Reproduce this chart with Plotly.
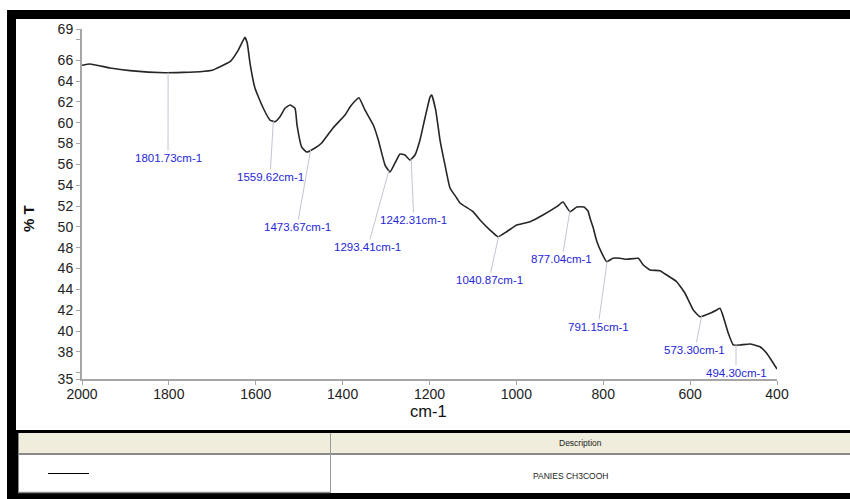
import numpy as np
import plotly.graph_objects as go

# IR spectrum, wavenumber (cm-1) vs transmittance (%T)
wavenumber = [2000, 1981.6, 1935.5, 1889.5, 1808.9, 1728.3, 1698.4, 1689.9, 1659.3, 1640.2,
              1628.7, 1624.7, 1619.5, 1613.2, 1601.7, 1582.6, 1567.2, 1555.7, 1544.2, 1532.7,
              1521.2, 1509.6, 1505.0, 1494.2, 1482.7, 1463.6, 1448.2, 1422.2, 1394.5, 1383.0,
              1371.5, 1362.3, 1348.5, 1329.4, 1317.8, 1302.4, 1290.9, 1279.4, 1267.9, 1256.4,
              1244.9, 1233.4, 1221.9, 1210.4, 1198.8, 1195.0, 1185.7, 1175.8, 1164.3, 1152.8,
              1137.4, 1129.8, 1099.9, 1083.7, 1060.7, 1042.3, 1022.3, 999.3, 968.6, 938.7,
              907.2, 892.7, 876.5, 861.1, 844.3, 835.1, 830.5, 823.6, 815.1, 803.6,
              792.1, 777.6, 761.4, 746.0, 719.3, 707.8, 692.4, 669.4, 654.0, 630.9,
              611.8, 592.7, 577.3, 554.2, 538.8, 531.2, 523.6, 512.1, 500.6, 485.2,
              462.2, 439.1, 423.7, 408.5, 400]
transmittance = [65.52, 65.64, 65.26, 65.00, 64.80, 64.90, 65.06, 65.23, 65.86, 66.98,
                 67.94, 68.20, 67.63, 65.71, 63.31, 61.39, 60.26, 60.10, 60.58, 61.39,
                 61.70, 61.39, 59.78, 57.67, 57.19, 57.58, 58.06, 59.50, 60.74, 61.51,
                 62.09, 62.40, 61.22, 59.78, 58.34, 55.94, 55.27, 56.14, 57.00, 56.90,
                 56.42, 56.90, 58.34, 60.46, 62.47, 62.66, 61.22, 58.34, 55.94, 53.74,
                 52.78, 52.30, 51.46, 50.66, 49.70, 49.06, 49.54, 50.18, 50.50, 51.14,
                 51.94, 52.39, 51.46, 51.91, 51.91, 51.53, 50.86, 49.99, 48.65, 47.50,
                 46.66, 46.99, 46.99, 46.89, 46.99, 46.34, 45.86, 45.80, 45.38, 44.74,
                 43.63, 42.03, 41.38, 41.71, 42.03, 42.19, 41.38, 39.79, 38.67, 38.67,
                 38.76, 38.50, 37.87, 36.91, 36.36]

# picked peaks (cm-1)
peaks = [1801.73, 1559.62, 1473.67, 1293.41, 1242.31, 1040.87, 877.04, 791.15, 573.30, 494.30]

# axis ticks
x_ticks = [2000, 1800, 1600, 1400, 1200, 1000, 800, 600, 400]
y_ticks = [35.4, 36, 38, 40, 42, 44, 46, 48, 50, 52, 54, 56, 58, 60, 62, 64, 66, 68, 69]
y_tick_text = ["35", "", "38", "40", "42", "44", "46", "48", "50", "52", "54", "56", "58",
               "60", "62", "64", "66", "", "69"]

legend_desc = "PANIES CH3COOH"

# label placement for each peak (wavenumber, %T of text centre)
label_pos = [(1802, 56.6), (1567, 54.8), (1505, 50.0), (1342, 48.07), (1236, 50.66),
             (1063, 44.9), (895, 46.9), (812, 40.4), (589, 38.2), (494.4, 36.0)]

W, H = 850, 499
FONT = "Liberation Sans, Arial, sans-serif"


def px(x):
    return x / W


def py(y):
    return 1 - y / H


wn = np.array(wavenumber)
tr = np.array(transmittance)
order = np.argsort(wn)

fig = go.Figure()
fig.add_trace(go.Scatter(
    x=wavenumber, y=transmittance, mode="lines",
    line=dict(color="#262626", width=1.6, shape="spline", smoothing=0.4),
    hoverinfo="x+y", showlegend=False))

annotations = []
for p, (lx, ly) in zip(peaks, label_pos):
    yv = float(np.interp(p, wn[order], tr[order]))
    annotations.append(dict(
        x=p, y=yv, xref="x", yref="y", ax=lx, ay=ly, axref="x", ayref="y",
        text=f"{p:.2f}cm-1", showarrow=True, arrowhead=0, arrowwidth=1,
        arrowcolor="#c4c4d4", standoff=0, startstandoff=0,
        font=dict(family=FONT, size=11.5, color="#2626d8")))


def label(x, y, text, size, color="#111", angle=0):
    return dict(x=px(x), y=py(y), xref="paper", yref="paper", text=text,
                xanchor="center", yanchor="middle", textangle=angle,
                showarrow=False, font=dict(family=FONT, size=size, color=color))


# axis titles
annotations.append(label(428, 411, "cm-1", 16.5))
annotations.append(label(28, 219, "<b>% T</b>", 15, angle=-90))

# legend table text
annotations.append(label(580, 443, "Description", 8.5, "#222"))
annotations.append(label(570, 476, legend_desc, 8.5, "#222"))


def rect(x0, y0, x1, y1, fill, line_w=0, line_c=None):
    return dict(type="rect", xref="paper", yref="paper", x0=px(x0), x1=px(x1),
                y0=py(y1), y1=py(y0), fillcolor=fill,
                line=dict(width=line_w, color=line_c or fill), layer="above")


def hline(x0, x1, y, color, w=1):
    return dict(type="line", xref="paper", yref="paper", x0=px(x0), x1=px(x1),
                y0=py(y), y1=py(y), line=dict(color=color, width=w), layer="above")


def vline(x, y0, y1, color, w=1):
    return dict(type="line", xref="paper", yref="paper", x0=px(x), x1=px(x),
                y0=py(y0), y1=py(y1), line=dict(color=color, width=w), layer="above")


shapes = [
    rect(7, 10, 850, 19, "black"),
    rect(7, 10, 16, 499, "black"),
    rect(7, 430, 850, 433, "black"),
    rect(16, 430, 18, 499, "black"),
    rect(18, 433, 850, 453, "#f0eddd"),
    rect(18, 453, 850, 455, "#8a8a8a"),
    rect(7, 493, 850, 499, "black"),
    vline(18.5, 433, 493, "#8a8a8a"),
    vline(330.5, 433, 493, "#9a9a9a"),
    hline(18, 330, 492.5, "#8a8a8a", 1.5),
    hline(48, 89, 473.5, "black", 1),
]

fig.update_layout(
    width=W, height=H, autosize=False,
    margin=dict(l=0, r=0, t=0, b=0),
    paper_bgcolor="white", plot_bgcolor="white",
    xaxis=dict(domain=[px(82), px(777)], range=[2000, 400], tickvals=x_ticks,
               showgrid=False, zeroline=False, showline=True, linecolor="#a6a6a6",
               linewidth=2, ticks="outside", ticklen=4, tickcolor="#a6a6a6",
               ticklabelstandoff=-3,
               tickfont=dict(family=FONT, size=14, color="#222"), automargin=False),
    yaxis=dict(domain=[py(379), py(29)], range=[35.4, 69], tickvals=y_ticks,
               ticktext=y_tick_text, showgrid=False, zeroline=False, showline=True,
               linecolor="#a6a6a6", linewidth=2, ticks="outside", ticklen=4,
               tickcolor="#a6a6a6", tickfont=dict(family=FONT, size=14, color="#222"),
               automargin=False),
    annotations=annotations,
    shapes=shapes,
    showlegend=False,
)

fig.write_html("out.html")
